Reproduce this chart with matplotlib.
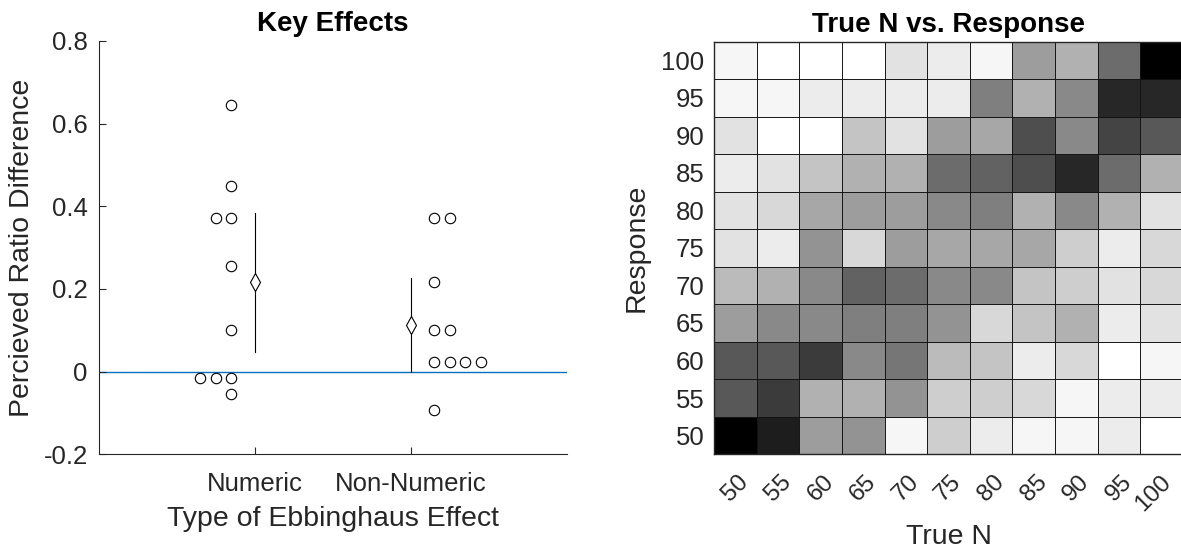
"""
Ebbinghaus effect summary: key effects strip plot + True N vs. Response heatmap
"""

import numpy as np
import matplotlib
matplotlib.use('Agg')
import matplotlib.pyplot as plt
import matplotlib.transforms as mtransforms

plt.rcParams['font.family'] = ['Liberation Sans', 'DejaVu Sans']
plt.rcParams['axes.unicode_minus'] = False

# ---- left panel data ----
effect_types = ['Numeric', 'Non-Numeric']
numeric_diff = [0.644, 0.450, 0.372, 0.372, 0.256, 0.101, -0.015, -0.015, -0.015, -0.054]
non_numeric_diff = [0.372, 0.372, 0.218, 0.101, 0.101, 0.024, 0.024, 0.024, 0.024, -0.092]
group_means = [0.217, 0.114]
ci_low = [0.048, 0.000]
ci_high = [0.385, 0.227]

# ---- right panel data: counts per (response, true N) cell ----
true_n = [50, 55, 60, 65, 70, 75, 80, 85, 90, 95, 100]
responses = [100, 95, 90, 85, 80, 75, 70, 65, 60, 55, 50]  # top to bottom
counts = [
    [1, 0, 0, 0, 3, 2, 1, 10, 8, 15, 26],
    [1, 1, 2, 2, 2, 2, 13, 8, 12, 22, 22],
    [3, 0, 0, 6, 3, 10, 9, 18, 12, 19, 17],
    [2, 3, 6, 8, 8, 15, 16, 18, 22, 15, 8],
    [3, 4, 9, 10, 10, 12, 13, 8, 12, 8, 3],
    [3, 2, 11, 4, 10, 9, 9, 9, 5, 2, 4],
    [7, 8, 12, 16, 15, 12, 12, 6, 5, 3, 4],
    [10, 12, 12, 13, 13, 11, 4, 6, 8, 2, 3],
    [17, 17, 20, 12, 14, 7, 6, 2, 4, 0, 1],
    [17, 20, 8, 8, 11, 5, 5, 4, 1, 2, 2],
    [26, 23, 10, 11, 1, 5, 2, 1, 1, 2, 0],
]

TICK_FS = 18.5
LABEL_FS = 20.5
TITLE_FS = 20
TXT = '#262626'
MATLAB_BLUE = '#0072BD'


def swarm_x(values, center, step):
    """Spread identical values sideways, like MATLAB's beeswarm style."""
    xs = []
    seen = {}
    for v in values:
        k = seen.get(v, 0)
        xs.append(center + step * (1.5 + k))
        seen[v] = k + 1
    return xs


fig = plt.figure(figsize=(11.81, 5.54), dpi=100)

# ---------------- left: Key Effects ----------------
ax1 = fig.add_axes([0.0838, 0.1800, 0.3960, 0.7460])
ax1.axhline(0, color=MATLAB_BLUE, linewidth=1.0, zorder=1)

for i, vals in enumerate([numeric_diff, non_numeric_diff]):
    pos = i + 1
    step = -0.1 if i == 0 else 0.1
    xs = swarm_x(vals, pos, step)
    ax1.plot(xs, vals, 'o', markersize=7.5, markerfacecolor='none',
             markeredgecolor='black', markeredgewidth=0.8, zorder=3)
    ax1.plot([pos, pos], [ci_low[i], ci_high[i]], color='black', linewidth=0.8, zorder=2)
    ax1.plot(pos, group_means[i], 'd', markersize=9, markerfacecolor='white',
             markeredgecolor='black', markeredgewidth=0.8, zorder=4)

ax1.set_xlim(0, 3)
ax1.set_ylim(-0.2, 0.8)
ax1.set_xticks([1, 2])
ax1.set_xticklabels(effect_types)
ax1.set_yticks([-0.2, 0, 0.2, 0.4, 0.6, 0.8])
ax1.set_yticklabels(['-0.2', '0', '0.2', '0.4', '0.6', '0.8'])
ax1.tick_params(direction='in', length=5, labelsize=TICK_FS, colors=TXT, pad=8)
ax1.tick_params(axis='x', pad=13)
for side in ['top', 'right']:
    ax1.spines[side].set_visible(False)
for side in ['left', 'bottom']:
    ax1.spines[side].set_color(TXT)
    ax1.spines[side].set_linewidth(0.8)
ax1.set_ylabel('Percieved Ratio Difference', fontsize=LABEL_FS, color=TXT, labelpad=6)
ax1.set_xlabel('Type of Ebbinghaus Effect', fontsize=LABEL_FS, color=TXT, labelpad=7)
ax1.set_title('Key Effects', fontsize=TITLE_FS, fontweight='bold', pad=7)

# ---------------- right: heatmap ----------------
ax2 = fig.add_axes([0.6046, 0.1800, 0.3971, 0.7448])
grid = np.array(counts)[::-1]  # row 0 -> Response 50 at bottom
ax2.pcolormesh(np.arange(len(true_n) + 1), np.arange(len(responses) + 1), grid,
               cmap='gray_r', vmin=0, vmax=grid.max(),
               edgecolors='#111111', linewidth=0.65, antialiased=True)
ax2.set_xlim(0, len(true_n))
ax2.set_ylim(0, len(responses))
ax2.set_xticks(np.arange(len(true_n)) + 0.5)
ax2.set_xticklabels([str(v) for v in true_n], rotation=45, ha='center', va='top',
                    fontsize=17.5)
ax2.set_yticks(np.arange(len(responses)) + 0.5)
ax2.set_yticklabels([str(v) for v in responses[::-1]], fontsize=TICK_FS)
ax2.tick_params(length=0, colors=TXT)
ax2.tick_params(axis='x', pad=12)
ax2.tick_params(axis='y', pad=7)

# last label sits against the figure edge, nudge it left a little
last = ax2.get_xticklabels()[-1]
last.set_transform(last.get_transform() +
                   mtransforms.ScaledTranslation(-6 / 72, 0, fig.dpi_scale_trans))

for sp in ax2.spines.values():
    sp.set_color(TXT)
    sp.set_linewidth(1.0)
ax2.set_xlabel('True N', fontsize=LABEL_FS, color=TXT, labelpad=6)
ax2.set_ylabel('Response', fontsize=LABEL_FS, color=TXT, labelpad=8)
ax2.set_title('True N vs. Response', fontsize=TITLE_FS, fontweight='bold', pad=7)

fig.savefig('out.png', dpi=100)
plt.close(fig)
